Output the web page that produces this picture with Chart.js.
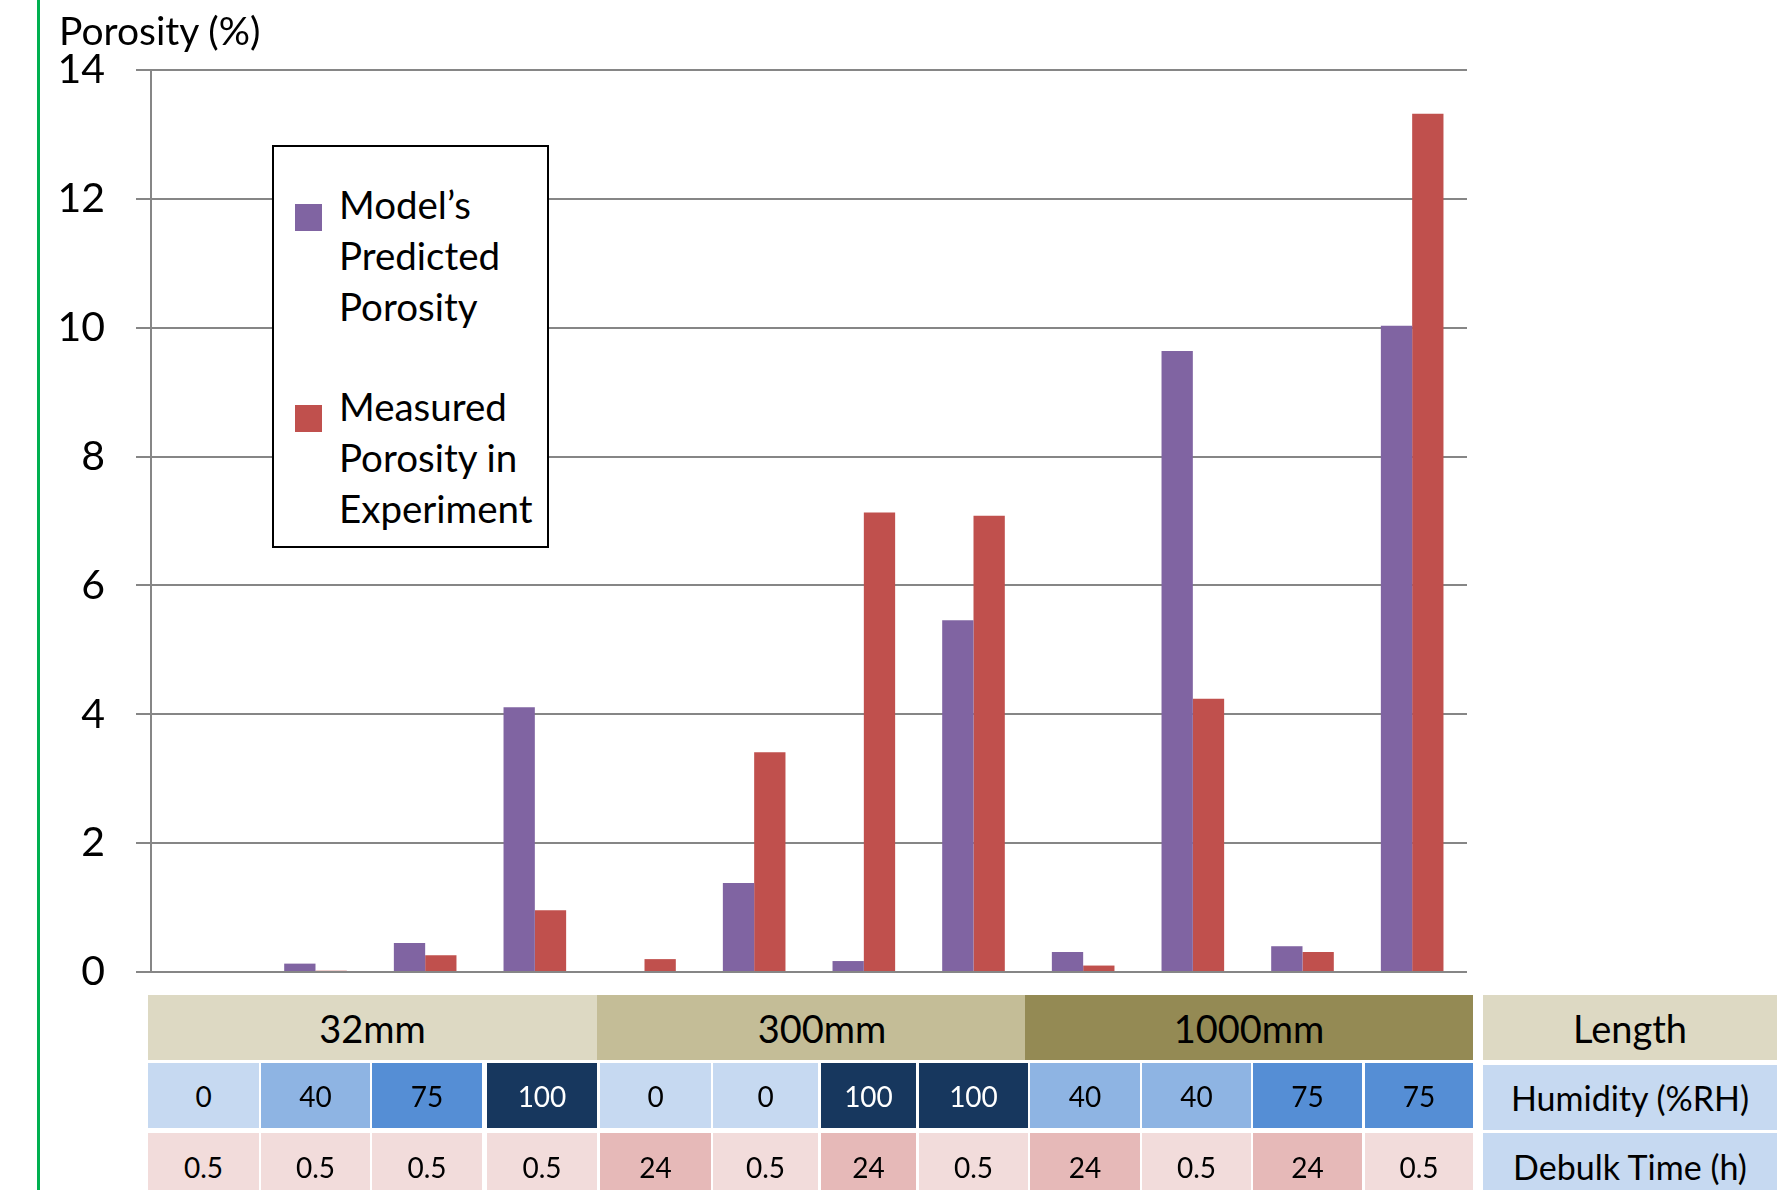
<!DOCTYPE html>
<html>
<head>
<meta charset="utf-8">
<script src="https://cdn.jsdelivr.net/npm/chart.js@4.4.1/dist/chart.umd.min.js"></script>
<style>
  html, body { margin: 0; padding: 0; background: #fff; overflow: hidden; }
  #wrap { position: relative; width: 1777px; height: 1190px; overflow: hidden;
          font-family: Lato, "Open Sans", sans-serif; color: #000; }
  #chart { position: absolute; left: 0; top: 0; }
  #spine { position: absolute; left: 37px; top: 0; width: 3px; height: 1190px; background: #00b050; }
  #ytitle { position: absolute; left: 59px; top: 7px; font-size: 39px; line-height: 46px; white-space: nowrap; }
  #legend { position: absolute; left: 272px; top: 145px; width: 273px; height: 399px;
            border: 2px solid #000; background: #fff; box-sizing: content-box; }
  .lg-mark { position: absolute; width: 27px; height: 27px; }
  .lg-text { position: absolute; font-size: 38.5px; line-height: 51px; white-space: nowrap; }
  .cell { position: absolute; display: flex; align-items: center; justify-content: center;
          white-space: nowrap; box-sizing: border-box; }
</style>
</head>
<body>
<div id="wrap">
  <canvas id="chart" width="1777" height="1190"></canvas>
  <div id="spine"></div>
  <div id="ytitle">Porosity (%)</div>
  <div id="legend"></div>
  <div id="table"></div>
</div>
<script>
// Test matrix: part length, humidity and debulk time for each of the 12 runs
const lengthGroups = ["32mm", "300mm", "1000mm"];
const lengthGroupSize = [4, 4, 4];
const humidity = ["0", "40", "75", "100", "0", "0", "100", "100", "40", "40", "75", "75"];
const debulkTime = ["0.5", "0.5", "0.5", "0.5", "24", "0.5", "24", "0.5", "24", "0.5", "24", "0.5"];
const rowHeaders = ["Length", "Humidity (%RH)", "Debulk Time (h)"];

// Porosity (%) per run
const predictedPorosity = [0, 0.13, 0.45, 4.11, 0, 1.38, 0.17, 5.46, 0.31, 9.64, 0.40, 10.03];
const measuredPorosity  = [0, 0.02, 0.26, 0.96, 0.20, 3.41, 7.13, 7.08, 0.10, 4.24, 0.31, 13.32];

const yTickValues = [0, 2, 4, 6, 8, 10, 12, 14];
const seriesNames = [["Model’s", "Predicted", "Porosity"], ["Measured", "Porosity in", "Experiment"]];
const seriesColors = ["#8064a2", "#c0504d"];

// Category labels built from the run conditions
const runLengths = [];
lengthGroups.forEach((g, i) => { for (let k = 0; k < lengthGroupSize[i]; k++) runLengths.push(g); });
const categories = humidity.map((h, i) => runLengths[i] + " / " + h + "%RH / " + debulkTime[i] + "h");

const GRID = "#868686";

const chart = new Chart(document.getElementById("chart"), {
  type: "bar",
  data: {
    labels: categories,
    datasets: [
      { label: seriesNames[0].join(" "), data: predictedPorosity, backgroundColor: seriesColors[0] },
      { label: seriesNames[1].join(" "), data: measuredPorosity, backgroundColor: seriesColors[1] }
    ]
  },
  options: {
    responsive: false,
    devicePixelRatio: 1,
    animation: false,
    layout: { padding: { left: 0, top: 70, right: 310, bottom: 218 } },
    datasets: { bar: { categoryPercentage: 0.571, barPercentage: 1.0 } },
    plugins: { legend: { display: false }, tooltip: { enabled: false } },
    scales: {
      x: { display: false },
      y: {
        min: 0, max: 14,
        afterBuildTicks: (s) => { s.ticks = yTickValues.map(v => ({ value: v })); },
        afterFit: (s) => { s.width = 151; },
        grid: { color: GRID, lineWidth: 2, tickLength: 15, drawTicks: true },
        border: { color: GRID, width: 2 },
        ticks: { color: "#000", padding: 31, font: { family: "Lato", size: 41 } }
      }
    }
  }
});

// Legend box built from the chart's datasets
const legend = document.getElementById("legend");
const legendRows = [{ markTop: 57, textTop: 32 }, { markTop: 258, textTop: 234 }];
chart.data.datasets.forEach((ds, i) => {
  const m = document.createElement("div");
  m.className = "lg-mark";
  m.style.left = "21px";
  m.style.top = legendRows[i].markTop + "px";
  m.style.background = ds.backgroundColor;
  legend.appendChild(m);
  const t = document.createElement("div");
  t.className = "lg-text";
  t.style.left = "65px";
  t.style.top = legendRows[i].textTop + "px";
  t.innerHTML = seriesNames[i].join("<br>");
  legend.appendChild(t);
});

// Condition table under the plot
const table = document.getElementById("table");
const colEdges = [[148,259],[261,370],[372,482],[487,597],[600,711],[713,818],[821,916],[919,1028],
                  [1030,1140],[1142,1251],[1253,1362],[1365,1473]];
const rowY = [[995,1060],[1063,1128],[1133,1200]];
const headerX = [1483, 1777];
const lengthColors = { "32mm": "#ddd9c3", "300mm": "#c4bd97", "1000mm": "#948a54" };
const humidityColors = { "0": "#c6d9f1", "40": "#8eb4e3", "75": "#558ed5", "100": "#17375e" };
const debulkColors = { "0.5": "#f2dcdb", "24": "#e6b9b8" };
const headerColors = ["#ddd9c3", "#c6d9f1", "#c6d9f1"];

function cell(x0, x1, y0, y1, text, bg, size, color, shift) {
  const d = document.createElement("div");
  d.className = "cell";
  d.style.left = x0 + "px"; d.style.width = (x1 - x0) + "px";
  d.style.top = y0 + "px"; d.style.height = (y1 - y0) + "px";
  d.style.background = bg; d.style.fontSize = size + "px";
  d.style.color = color || "#000";
  if (shift) d.style.paddingLeft = shift + "px";
  d.textContent = text;
  table.appendChild(d);
}

const groupX = [148, 597, 1025, 1473];
const groupTextShift = [0, 22, 0];
lengthGroups.forEach((g, i) => cell(groupX[i], groupX[i + 1], rowY[0][0], rowY[0][1], g,
  lengthColors[g], 38, "#000", groupTextShift[i]));
humidity.forEach((h, i) => cell(colEdges[i][0], colEdges[i][1], rowY[1][0], rowY[1][1], h,
  humidityColors[h], 28, h === "100" ? "#fff" : "#000"));
debulkTime.forEach((t, i) => cell(colEdges[i][0], colEdges[i][1], rowY[2][0], rowY[2][1], t, debulkColors[t], 28));
rowHeaders.forEach((h, r) => cell(headerX[0], headerX[1], rowY[r][0] + (r === 1 ? 2 : 0), rowY[r][1] + (r === 1 ? 2 : 0),
  h, headerColors[r], r === 0 ? 38 : 34));
</script>
</body>
</html>
